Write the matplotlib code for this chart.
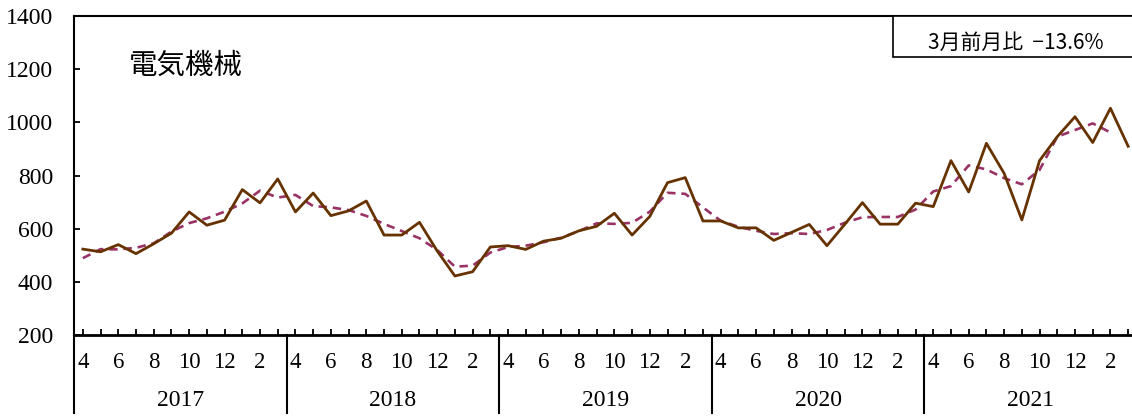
import matplotlib.pyplot as plt
from matplotlib.patches import Rectangle

# monthly values, Apr 2017 - Mar 2022
years = ['2017', '2018', '2019', '2020', '2021']
month_labels = ['4', '', '6', '', '8', '', '10', '', '12', '', '2', '']

actual = [523, 513, 540, 506, 543, 583, 663, 613, 632, 747, 697, 787,
          663, 734, 649, 667, 704, 576, 576, 624, 516, 422, 438, 531,
          536, 522, 553, 564, 592, 609, 658, 576, 646, 773, 792, 629,
          629, 603, 603, 556, 586, 616, 536, 616, 698, 617, 617, 696,
          683, 856, 738, 921, 808, 633, 856, 946, 1021, 924, 1053, 910]

trend = [489, 523, 522, 528, 545, 589, 621, 639, 664, 695, 743, 717,
         727, 685, 680, 670, 648, 618, 591, 564, 520, 457, 461, 510,
         531, 536, 549, 566, 591, 620, 618, 622, 664, 735, 731, 680,
         630, 607, 592, 580, 583, 580, 595, 622, 643, 644, 644, 672,
         740, 760, 838, 823, 790, 767, 821, 946, 971, 996, 962, None]

title = '電気機械'
note = '3月前月比  −13.6%'

x = list(range(len(actual)))

fig = plt.figure(figsize=(11.32, 4.17), dpi=100)
ax = fig.add_axes([74 / 1132, 1 - 335 / 417, 1063 / 1132, 319 / 417])

ax.plot(x, actual, color='#663300', lw=2.0, zorder=3)
tx = [i for i, v in enumerate(trend) if v is not None]
ty = [v for v in trend if v is not None]
ax.plot(tx, ty, color='#993366', lw=1.9, ls=(0, (3.2, 2.2)), zorder=2)

ax.set_xlim(-0.5, len(actual) - 0.5)
ax.set_ylim(200, 1400)
ax.set_yticks(range(200, 1401, 200))
ax.set_xticks(x)
ax.set_xticklabels([])
ax.tick_params(axis='both', direction='in', length=4, width=1.3)
ax.tick_params(axis='y', labelsize=17, pad=15)
for lab in ax.get_yticklabels():
    lab.set_family('Liberation Serif')

for s in ['left', 'top', 'bottom']:
    ax.spines[s].set_linewidth(1.5)
ax.spines['bottom'].set_linewidth(2)
ax.spines['right'].set_visible(False)

trans = ax.get_xaxis_transform()
# month and year labels below the axis
for i in x:
    lab = month_labels[i % 12]
    if lab:
        ax.text(i, -0.085, lab, transform=trans, ha='center', va='center',
                fontsize=16.5, family='Liberation Serif')
for k, yr in enumerate(years):
    ax.text(k * 12 + 5.5, -0.205, yr, transform=trans, ha='center',
            va='center', fontsize=17, family='Liberation Serif')
# year separators and extended left spine
for k in range(len(years)):
    ax.plot([k * 12 - 0.5, k * 12 - 0.5], [0, -0.245], transform=trans,
            color='black', lw=1.5, clip_on=False)

ax.text(0.052, 0.845, title, transform=ax.transAxes, fontsize=20.5,
        family=['Noto Sans CJK JP', 'DejaVu Sans'], ha='left', va='center')

box = Rectangle((893 / 1132, 1 - 57 / 417), 0.3, 41 / 417,
                transform=fig.transFigure, facecolor='white',
                edgecolor='black', lw=1.2, zorder=5)
fig.patches.append(box)
fig.text(1016 / 1132, 1 - 43 / 417, note, fontsize=15,
         family=['Noto Sans CJK JP', 'DejaVu Sans'], ha='center',
         va='center', zorder=6)

fig.savefig('out.png', dpi=100)
